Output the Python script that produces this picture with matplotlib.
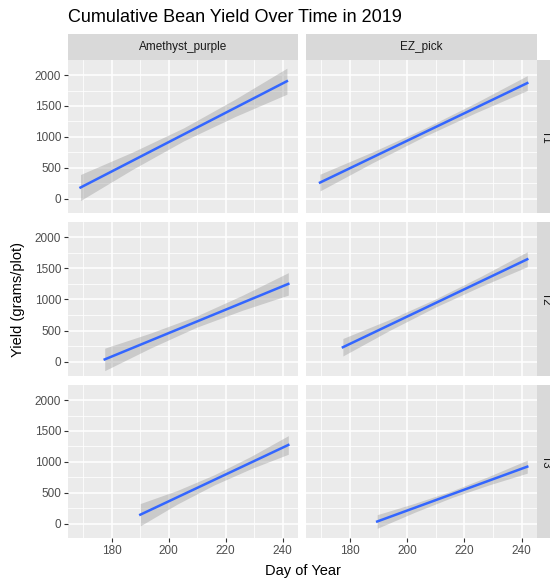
import matplotlib.pyplot as plt
import numpy as np

plt.rcParams['font.family'] = ['Liberation Sans', 'DejaVu Sans']

varieties = ['Amethyst_purple', 'EZ_pick']
treatments = ['T1', 'T2', 'T3']

# fitted line ends per treatment (rows) x variety (cols)
day_start = [[169, 169.5], [177.5, 177.5], [190, 189.5]]
day_end = [[241.5, 242], [242, 242], [242, 242]]
yield_start = [[185, 265], [40, 235], [150, 40]]
yield_end = [[1900, 1870], [1250, 1645], [1275, 925]]

# half-width of the confidence band at start, 1/4, middle, 3/4, end of the fit
band = [
    [[210, 140, 105, 140, 210], [135, 88, 65, 80, 120]],
    [[180, 120, 90, 120, 180], [140, 88, 65, 80, 120]],
    [[180, 110, 82, 100, 150], [110, 72, 54, 70, 105]],
]

x_ticks = [180, 200, 220, 240]
y_ticks = [0, 500, 1000, 1500, 2000]

W, H = 550, 581
fig = plt.figure(figsize=(W / 100, H / 100), dpi=100)

col_x = [(68, 298), (306, 537)]
row_y = [(60, 213), (222, 376), (385, 538)]
strip_top = 34


def box(x0, x1, y0, y1):
    return [x0 / W, 1 - y1 / H, (x1 - x0) / W, (y1 - y0) / H]


for r, trt in enumerate(treatments):
    for c, var in enumerate(varieties):
        ax = fig.add_axes(box(col_x[c][0], col_x[c][1], row_y[r][0], row_y[r][1]))
        ax.set_facecolor('#EBEBEB')
        ax.set_xlim(164.6, 245.4)
        ax.set_ylim(-226, 2242)
        ax.set_xticks(x_ticks)
        ax.set_yticks(y_ticks)
        ax.set_xticks([170, 190, 210, 230], minor=True)
        ax.set_yticks([250, 750, 1250, 1750], minor=True)
        ax.grid(which='major', color='white', linewidth=1.1)
        ax.grid(which='minor', color='white', linewidth=0.55)
        ax.set_axisbelow(True)
        for s in ax.spines.values():
            s.set_visible(False)
        ax.tick_params(which='minor', length=0)
        ax.tick_params(which='major', length=3, width=0.8, color='#333333',
                       labelcolor='#4D4D4D', labelsize=8.5, pad=2)
        if c != 0:
            ax.tick_params(axis='y', left=False, labelleft=False)
        if r != len(treatments) - 1:
            ax.tick_params(axis='x', bottom=False, labelbottom=False)

        xs = np.linspace(day_start[r][c], day_end[r][c], 5)
        ys = np.interp(xs, [day_start[r][c], day_end[r][c]],
                       [yield_start[r][c], yield_end[r][c]])
        hw = np.array(band[r][c])
        ax.fill_between(xs, ys - hw, ys + hw, color='#999999', alpha=0.4,
                        linewidth=0, zorder=2)
        ax.plot([day_start[r][c], day_end[r][c]],
                [yield_start[r][c], yield_end[r][c]],
                color='#3366FF', linewidth=1.8, zorder=3)

        # top strips
        if r == 0:
            sax = fig.add_axes(box(col_x[c][0], col_x[c][1], strip_top, row_y[0][0]))
            sax.set_facecolor('#D9D9D9')
            sax.set_xticks([])
            sax.set_yticks([])
            for s in sax.spines.values():
                s.set_visible(False)
            sax.text(0.5, 0.5, var, ha='center', va='center', fontsize=8.5,
                     color='#1A1A1A', transform=sax.transAxes)

    # right strips (cut by the figure edge)
    rax = fig.add_axes(box(537, 555, row_y[r][0], row_y[r][1]))
    rax.set_facecolor('#D9D9D9')
    rax.set_xticks([])
    rax.set_yticks([])
    for s in rax.spines.values():
        s.set_visible(False)
    rax.text(0.5, 0.5, trt, ha='center', va='center', rotation=-90,
             fontsize=8.5, color='#1A1A1A', transform=rax.transAxes)

fig.text(68 / W, 1 - 18 / H, 'Cumulative Bean Yield Over Time in 2019',
         ha='left', va='center', fontsize=13, color='black')
fig.text((68 + 537) / 2 / W, 1 - 571 / H, 'Day of Year', ha='center',
         va='center', fontsize=10.5, color='black')
fig.text(18 / W, 1 - 299 / H, 'Yield (grams/plot)', ha='center', va='center',
         rotation=90, fontsize=10.5, color='black')

fig.savefig('out.png', dpi=100, facecolor='white')
